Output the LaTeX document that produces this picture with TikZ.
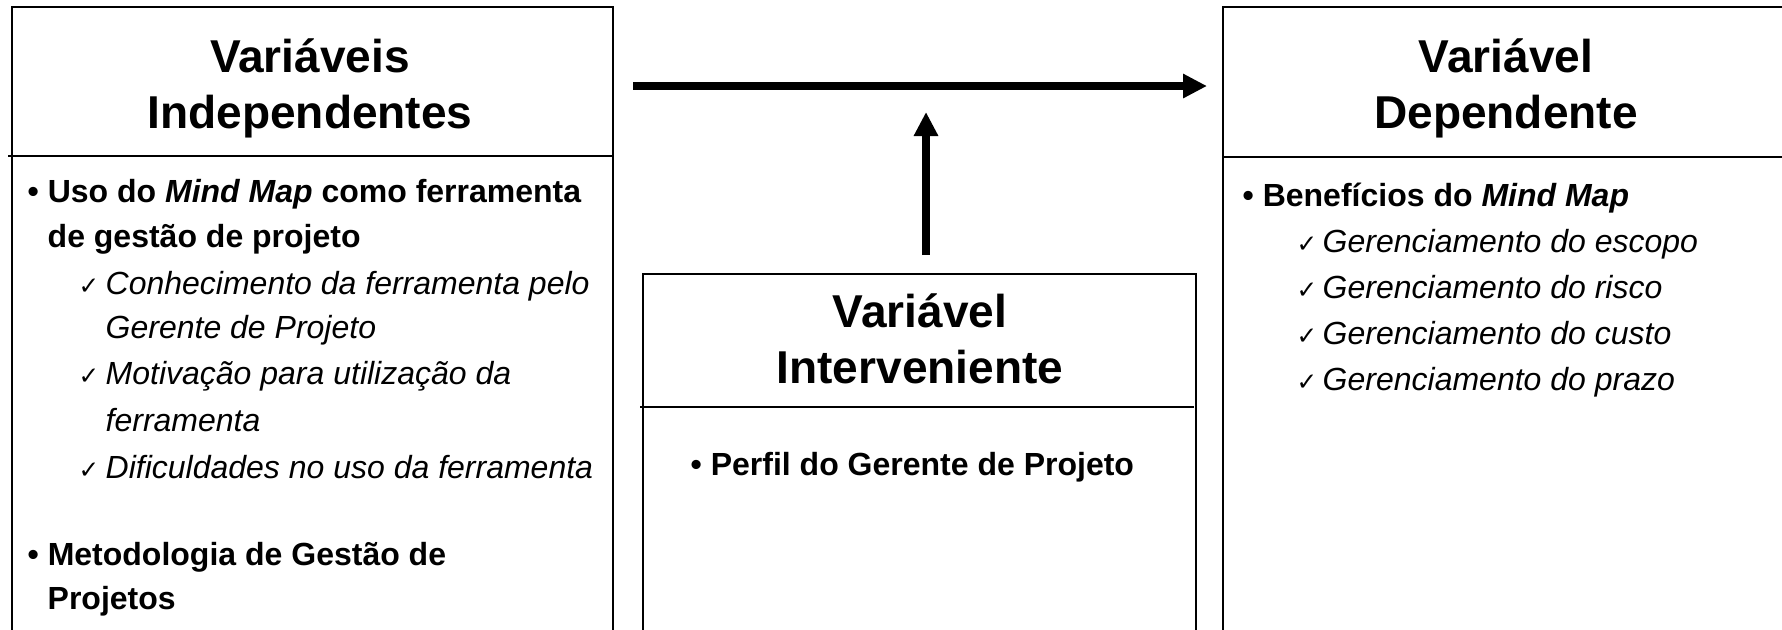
\documentclass[tikz,border=0pt]{standalone}
\usepackage{fontspec}
\setmainfont{Liberation Sans}
\newfontfamily\checkfont{DejaVu Sans}
\usetikzlibrary{arrows.meta}

\tikzset{
  box/.style={line width=0.57pt},
  title/.style={anchor=base, inner sep=0pt, font=\fontsize{13.1}{16}\selectfont\bfseries},
  item/.style={anchor=base west, inner sep=0pt, font=\fontsize{9.1}{11}\selectfont\bfseries},
  subitem/.style={anchor=base west, inner sep=0pt, font=\fontsize{9.1}{11}\selectfont\itshape},
  checkmark/.style={anchor=base west, inner sep=0pt, font=\fontsize{7}{8}\selectfont\checkfont},
  bigarrow/.style={line width=2.42pt, -{Triangle[length=0.24cm,width=0.23cm]}}
}

\begin{document}
\begin{tikzpicture}[x=0.01cm,y=-0.01cm]
    \useasboundingbox (0,0) rectangle (1782,629);
    % boxes
    \draw[box] (12,700) |- (613,7) -- (613,700);
    \draw[box] (8,156) -- (612,156);
    \draw[box] (643,700) |- (1196,274) -- (1196,700);
    \draw[box] (640,407) -- (1194,407);
    \draw[box] (1223,700) |- (1850,7);
    \draw[box] (1223,157) -- (1850,157);
    % titles
    \node[title] (indep1) at (310,72) {Variáveis};
    \node[title] (indep2) at (310,128) {Independentes};
    \node[title] (interv1) at (920,327) {Variável};
    \node[title] (interv2) at (920,383) {Interveniente};
    \node[title] (dep1) at (1506,72) {Variável};
    \node[title] (dep2) at (1506,128) {Dependente};
    % left box
    \node[item] (uso1) at (27,202) {• Uso do \textit{Mind Map} como ferramenta};
    \node[item] (uso2) at (47,247) {de gestão de projeto};
    \node[checkmark] (ck1) at (78,294) {✓};
    \node[subitem] (con1) at (105,294) {Conhecimento da ferramenta pelo};
    \node[subitem] (con2) at (105,338) {Gerente de Projeto};
    \node[checkmark] (ck2) at (78,384) {✓};
    \node[subitem] (mot1) at (105,384) {Motivação para utilização da};
    \node[subitem] (mot2) at (105,431) {ferramenta};
    \node[checkmark] (ck3) at (78,478) {✓};
    \node[subitem] (dif) at (105,478) {Dificuldades no uso da ferramenta};
    \node[item] (met1) at (27,565) {• Metodologia de Gestão de};
    \node[item] (met2) at (47,609) {Projetos};
    % middle box
    \node[item] (perfil) at (690,475) {• Perfil do Gerente de Projeto};
    % right box
    \node[item] (ben) at (1242,206) {• Benefícios do \textit{Mind Map}};
    \node[checkmark] (ck4) at (1296,252) {✓};
    \node[subitem] (esc) at (1322,252) {Gerenciamento do escopo};
    \node[checkmark] (ck5) at (1296,298) {✓};
    \node[subitem] (ris) at (1322,298) {Gerenciamento do risco};
    \node[checkmark] (ck6) at (1296,344) {✓};
    \node[subitem] (cus) at (1322,344) {Gerenciamento do custo};
    \node[checkmark] (ck7) at (1296,390) {✓};
    \node[subitem] (pra) at (1322,390) {Gerenciamento do prazo};
    % arrows
    \coordinate (hfrom) at (633,86);
    \coordinate (hto) at (1207,86);
    \coordinate (vfrom) at (926,255);
    \coordinate (vto) at (926,112);
    \draw[bigarrow] (hfrom) -- (hto);
    \draw[bigarrow] (vfrom) -- (vto);
\end{tikzpicture}
\end{document}
